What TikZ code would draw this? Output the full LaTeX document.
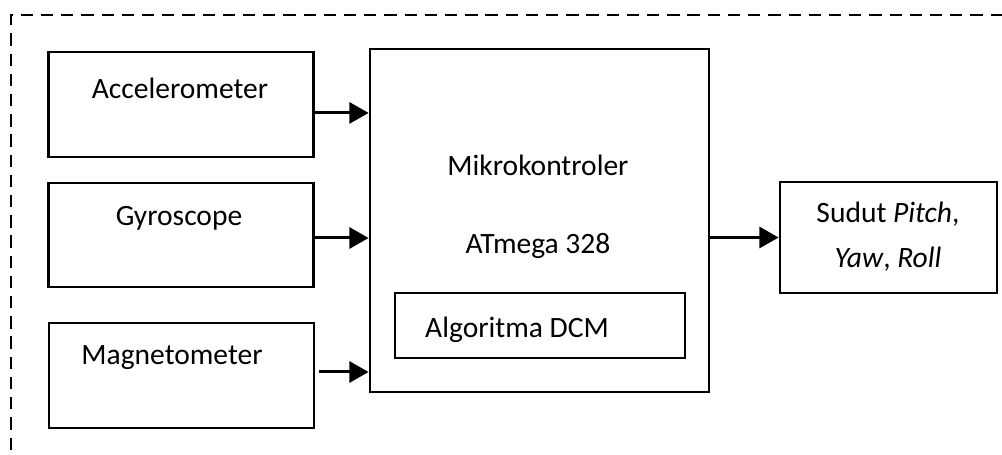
\documentclass[tikz,border=0pt]{standalone}
\usepackage{fontspec}
\setmainfont{Carlito}
\usetikzlibrary{arrows.meta, positioning, calc}
\tikzset{
  blok/.style={draw, line width=1.6pt, inner sep=0pt},
  teks/.style={font=\fontsize{16.8}{25.5}\selectfont, inner sep=0pt, align=center},
  panah/.style={-{Triangle[length=11pt, width=12pt]}, line width=1.7pt},
  bingkai/.style={line width=1.6pt, dash pattern=on 7pt off 4.5pt}
}

\begin{document}
\begin{tikzpicture}[x=0.02cm, y=-0.02cm]
    \useasboundingbox (0,0) rectangle (1002,454);
    % Bingkai sistem
    \draw[bingkai] (11,470) -- (11,15) -- (1020,15);
    % Sensor
    \node[blok, minimum width=5.3cm, minimum height=2.1cm] (acc) at (181,104.5) {};
    \node[teks] (accteks) at (180,88) {Accelerometer};
    \node[blok, minimum width=5.3cm, minimum height=2.08cm] (gyro) at (181,235) {};
    \node[teks] (gyroteks) at (179,218) {Gyroscope};
    \node[blok, minimum width=5.3cm, minimum height=2.1cm] (mag) at (181.5,375.5) {};
    \node[teks] (magteks) at (172,358) {Magnetometer};
    % Mikrokontroler
    \node[blok, minimum width=6.78cm, minimum height=6.86cm] (mcu) at (539.5,220.5) {};
    \node[teks] (mcuteks) at (538,165) {Mikrokontroler};
    \node[teks] (chip) at (538,246) {ATmega 328};
    \node[blok, minimum width=5.8cm, minimum height=1.3cm] (dcm) at (540,325.5) {};
    \node[teks] (dcmteks) at (517,330) {Algoritma DCM};
    % Keluaran
    \node[blok, minimum width=4.34cm, minimum height=2.22cm] (out) at (888.5,237.5) {};
    \node[teks] (outteks) at (888,237) {Sudut \textit{Pitch},\\\textit{Yaw}, \textit{Roll}};
    % Panah
    \draw[panah] ([yshift=-4.8pt]acc.east) -- ([yshift=-4.8pt]acc.east -| mcu.west);
    \draw[panah] ([yshift=-1.7pt]gyro.east) -- ([yshift=-1.7pt]gyro.east -| mcu.west);
    \draw[panah] ([xshift=2.3pt, yshift=2pt]mag.east) -- ([yshift=2pt]mag.east -| mcu.west);
    \draw[panah] (out.west -| mcu.east) -- (out.west);
\end{tikzpicture}
\end{document}
